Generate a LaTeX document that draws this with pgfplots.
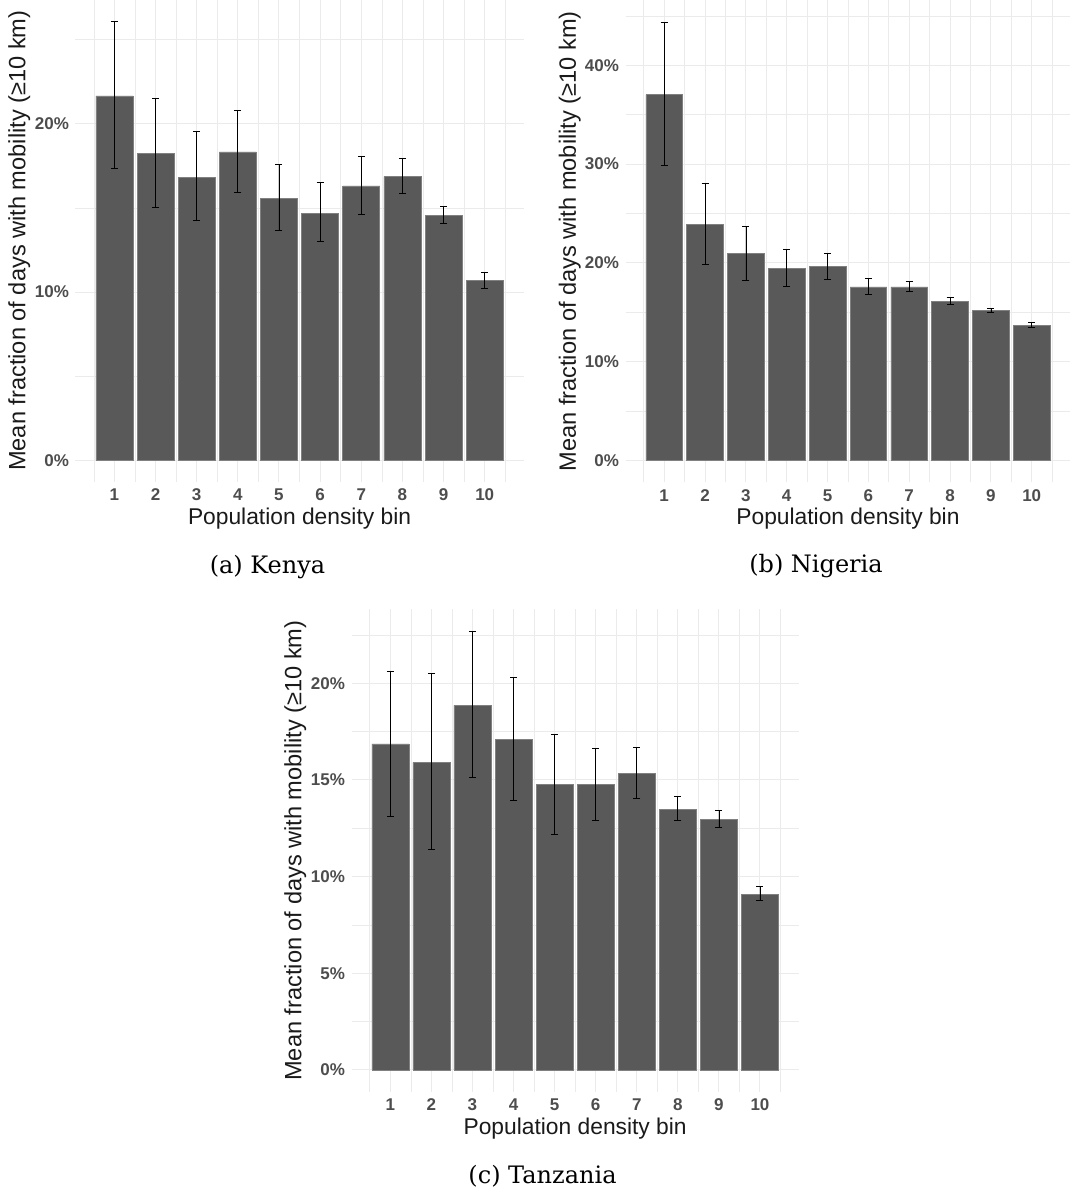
\documentclass[border=0pt]{standalone}
\usepackage{fontspec}
\setmainfont{Liberation Sans}
\newfontfamily\capfont{DejaVu Serif}
\usepackage{pgfplots}
\usepackage{pgfplotstable}
\pgfplotsset{compat=1.18}
\definecolor{barfill}{HTML}{595959}
\definecolor{bardraw}{HTML}{808080}
\definecolor{tickgray}{HTML}{4D4D4D}
\definecolor{gridgray}{HTML}{EBEBEB}
\definecolor{titleblack}{HTML}{1A1A1A}

\pgfplotstableread{
x y lo hi
1 21.65 17.33 26.10
2 18.22 15.01 21.49
3 16.82 14.24 19.53
4 18.32 15.94 20.80
5 15.57 13.65 17.59
6 14.69 12.99 16.50
7 16.30 14.62 18.06
8 16.86 15.88 17.94
9 14.54 14.06 15.07
10 10.68 10.20 11.19
}\kenya
\pgfplotstableread{
x y lo hi
1 37.02 29.84 44.35
2 23.87 19.86 28.02
3 20.97 18.27 23.73
4 19.48 17.59 21.41
5 19.62 18.34 21.00
6 17.56 16.82 18.44
7 17.56 17.09 18.10
8 16.11 15.84 16.52
9 15.16 14.96 15.43
10 13.68 13.44 13.95
}\nigeria
\pgfplotstableread{
x y lo hi
1 16.86 13.10 20.64
2 15.91 11.41 20.50
3 18.86 15.12 22.69
4 17.08 13.93 20.29
5 14.78 12.20 17.36
6 14.75 12.93 16.62
7 15.34 14.07 16.67
8 13.48 12.91 14.15
9 12.96 12.53 13.45
10 9.08 8.79 9.48
}\tanzania

\pgfplotsset{
  mystyle/.style={
    scale only axis,
    axis line style={draw=none},
    tick style={draw=none},
    major tick length=0pt,
    ybar,
    bar width=0.9,
    xmin=0.055, xmax=10.945,
    xtick={1,...,10},
    xticklabels={1,2,3,4,5,6,7,8,9,10},
    minor xtick={0.5,1.5,...,10.5},
    grid=both,
    major grid style={draw=gridgray, line width=0.5pt},
    minor grid style={draw=gridgray, line width=0.3pt},
    ticklabel style={font=\bfseries\fontsize{8.5}{10}\selectfont, text=tickgray},
    xticklabel style={anchor=base, inner sep=0pt, yshift=-9.4pt},
    yticklabel style={anchor=east, inner sep=0pt, xshift=-3.1pt},
    every axis x label/.style={at={(axis description cs:0.5,0)}, anchor=center, yshift=-18.3pt,
      font=\fontsize{11.4}{13}\selectfont, text=titleblack},
    every axis y label/.style={at={(axis description cs:-0.1255,0.5)}, rotate=90, anchor=center,
      font=\fontsize{11.8}{13}\selectfont, text=titleblack},
    xlabel={Population density bin},
    ylabel={Mean fraction of days with mobility (≥10 km)},
  },
  mybar/.style={
    fill=barfill, draw=bardraw, line width=0.3pt,
    error bars/.cd, y dir=both, y explicit,
    error bar style={line width=0.35pt, black},
    error mark=-,
    error mark options={rotate=90, line width=0.35pt, black, mark size=1.75pt},
  },
}

\begin{document}
\begin{tikzpicture}
\useasboundingbox (0,0) rectangle (541.5pt,596.5pt);

% Kenya
\begin{axis}[mystyle,
  at={(37.75pt,355.4pt)}, anchor=south west,
  width=224.05pt, height=241.5pt,
  ymin=-1.3, ymax=27.4,
  ytick={0,10,20}, yticklabels={0\%,10\%,20\%},
  minor ytick={5,15,25},
]
\addplot[mybar] table[x=x, y=y,
  y error plus expr=\thisrow{hi}-\thisrow{y},
  y error minus expr=\thisrow{y}-\thisrow{lo}] {\kenya};
\end{axis}
\node[font=\capfont\fontsize{12}{14}\selectfont] at (133.75pt,313.15pt) {(a) Kenya};

% Nigeria
\begin{axis}[mystyle,
  at={(312.8pt,355.3pt)}, anchor=south west,
  width=222.35pt, height=241pt,
  ymin=-2.22, ymax=46.57,
  ytick={0,10,20,30,40}, yticklabels={0\%,10\%,20\%,30\%,40\%},
  minor ytick={5,15,25,35,45},
]
\addplot[mybar] table[x=x, y=y,
  y error plus expr=\thisrow{hi}-\thisrow{y},
  y error minus expr=\thisrow{y}-\thisrow{lo}] {\nigeria};
\end{axis}
\node[font=\capfont\fontsize{12}{14}\selectfont] at (408pt,313.5pt) {(b) Nigeria};

% Tanzania
\begin{axis}[mystyle,
  at={(175.75pt,50.6pt)}, anchor=south west,
  width=223.65pt, height=241.2pt,
  ymin=-1.13, ymax=23.82,
  ytick={0,5,10,15,20}, yticklabels={0\%,5\%,10\%,15\%,20\%},
  minor ytick={2.5,7.5,12.5,17.5,22.5},
]
\addplot[mybar] table[x=x, y=y,
  y error plus expr=\thisrow{hi}-\thisrow{y},
  y error minus expr=\thisrow{y}-\thisrow{lo}] {\tanzania};
\end{axis}
\node[font=\capfont\fontsize{12}{14}\selectfont] at (271.25pt,8.15pt) {(c) Tanzania};
\end{tikzpicture}
\end{document}
